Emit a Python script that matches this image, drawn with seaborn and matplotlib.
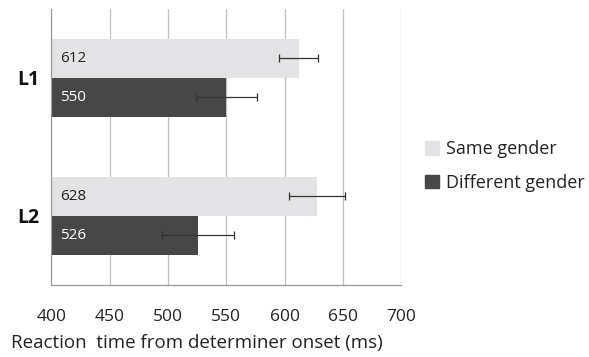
import pandas as pd
import numpy as np
import matplotlib
matplotlib.use("Agg")
import matplotlib.pyplot as plt
import seaborn as sns

groups = ["L1", "L2"]
conditions = ["Same gender", "Different gender"]
same_rt = [612, 628]
diff_rt = [550, 526]
same_err = [17, 24]
diff_err = [26, 31]
colors = ["#e3e3e5", "#474747"]
xticks = [400, 450, 500, 550, 600, 650, 700]

sns.set_theme(style="white")
plt.rcParams['font.family'] = ['Open Sans', 'DejaVu Sans']

df = pd.DataFrame({
    "group": groups * 2,
    "condition": [conditions[0]] * 2 + [conditions[1]] * 2,
    "rt": same_rt + diff_rt,
    "err": same_err + diff_err,
})

fig = plt.figure(figsize=(5.89, 3.57), dpi=100)
ax = fig.add_axes([0.0874, 0.2017, 0.5936, 0.7733])

sns.barplot(data=df, x="rt", y="group", hue="condition", hue_order=conditions,
            palette=colors, errorbar=None, width=0.565, orient="h",
            linewidth=0, ax=ax, legend=False, zorder=2)

ax.set_xlim(400, 700)
x0 = ax.get_xlim()[0]

# error bars and value labels from the bar patches
for i, (bars, cond) in enumerate(zip(ax.containers, conditions)):
    sub = df[df["condition"] == cond]
    for bar, v, e in zip(bars, sub["rt"], sub["err"]):
        yc = bar.get_y() + bar.get_height() / 2
        ax.errorbar(v, yc, xerr=e, fmt="none", ecolor="#333333",
                    elinewidth=0.9, capsize=3, capthick=0.9, zorder=3)
        ax.annotate(str(v), (x0, yc), xytext=(6, 0), textcoords="offset points",
                    va="center", ha="left", fontsize=11,
                    color="#222222" if i == 0 else "white", zorder=4)

ax.set_xticks(xticks)
ax.set_ylim(1.5, -0.5)
ax.grid(axis="x", color="#c0c0c0", linewidth=0.9, zorder=0)
ax.set_axisbelow(True)
for s in ["top", "right"]:
    ax.spines[s].set_visible(False)
for s in ["left", "bottom"]:
    ax.spines[s].set_color("#999999")
    ax.spines[s].set_linewidth(0.9)

ax.set_yticks([0, 1])
ax.set_yticklabels(groups, fontsize=14, fontweight="bold", color="#111111")
ax.tick_params(axis="y", length=0, pad=9)
ax.set_yticks([-0.5, 0.5, 1.5], minor=True)
ax.tick_params(axis="y", which="minor", length=7, color="#999999", width=0.9, direction="out")
ax.tick_params(axis="x", length=3, color="#999999", width=0.9, labelsize=12.5,
               labelcolor="#222222", pad=14)
ax.set_xlabel("Reaction  time from determiner onset (ms)", fontsize=13.5,
              color="#222222")
ax.xaxis.set_label_coords(0.416, -0.178)
ax.set_ylabel("")

handles = [plt.Rectangle((0, 0), 1, 1, color=c) for c in colors]
fig.legend(handles, conditions, loc="center left", bbox_to_anchor=(0.722, 0.535),
           frameon=False, fontsize=13, handlelength=0.75, handleheight=0.75,
           handletextpad=0.4, labelspacing=0.85, labelcolor="#222222",
           borderpad=0, borderaxespad=0)

fig.savefig("out.png", dpi=100)
